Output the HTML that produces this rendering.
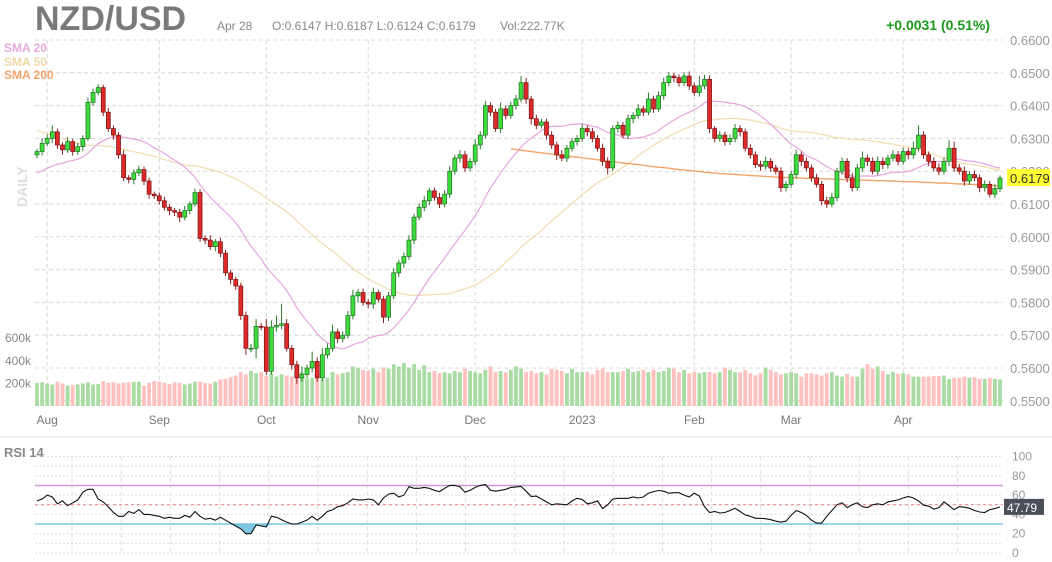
<!DOCTYPE html>
<html><head><meta charset="utf-8"><style>
html,body{margin:0;padding:0;background:#fff;}
svg{display:block;font-family:"Liberation Sans",sans-serif;}
</style></head><body>
<svg id="chart" width="1052" height="562" viewBox="0 0 1052 562" xmlns="http://www.w3.org/2000/svg">
<rect x="0" y="0" width="1052" height="562" fill="#fff"/>
<g id="grid"></g>
<g id="vol"></g>
<g id="sma"></g>
<g id="candles"></g>
<g id="rsi"></g>
<g id="labels"></g>
<text x="35" y="30" font-size="34" font-weight="bold" fill="#7a7a7a">NZD/USD</text>
<text x="217" y="30" font-size="12" fill="#888">Apr 28</text>
<text x="272" y="30" font-size="12" fill="#888">O:0.6147  H:0.6187  L:0.6124  C:0.6179</text>
<text x="500" y="30" font-size="12" fill="#888">Vol:222.77K</text>
<text x="990" y="30" font-size="14" font-weight="bold" fill="#1c9a1c" text-anchor="end">+0.0031 (0.51%)</text>
<text x="4" y="52" font-size="12" font-weight="bold" fill="#e8a8e0">SMA 20</text>
<text x="4" y="66" font-size="12" font-weight="bold" fill="#f0d8a8">SMA 50</text>
<text x="4" y="79" font-size="12" font-weight="bold" fill="#f4a46a">SMA 200</text>
<text transform="translate(27,207) rotate(-90)" font-size="14" font-weight="bold" fill="#ddd">DAILY</text>
<text x="4" y="457" font-size="13" font-weight="bold" fill="#888">RSI 14</text>
</svg>
<script>
const priorCloses=[0.6570,0.6550,0.6530,0.6560,0.6540,0.6510,0.6490,0.6520,0.6500,0.6480,0.6460,0.6470,0.6440,0.6410,0.6430,0.6400,0.6380,0.6360,0.6340,0.6370,0.6350,0.6320,0.6300,0.6340,0.6330,0.6310,0.6290,0.6260,0.6280,0.6250,0.6120,0.6160,0.6190,0.6170,0.6200,0.6180,0.6210,0.6190,0.6160,0.6180,0.6150,0.6170,0.6200,0.6190,0.6210,0.6220,0.6240,0.6230,0.6250];
const closes=[0.6260,0.6285,0.6300,0.6320,0.6280,0.6265,0.6290,0.6260,0.6275,0.6300,0.6410,0.6440,0.6455,0.6380,0.6330,0.6310,0.6250,0.6180,0.6175,0.6195,
0.6205,0.6170,0.6130,0.6125,0.6110,0.6090,0.6080,0.6075,0.6060,0.6080,0.6100,0.6135,0.5995,0.5990,0.5970,0.5985,0.5950,0.5890,0.5870,0.5850,
0.5760,0.5660,0.5660,0.5727,0.5725,0.5590,0.5725,0.5730,0.5735,0.5660,0.5610,0.5570,0.5580,0.5600,0.5620,0.5570,0.5640,0.5660,0.5710,0.5690,
0.5700,0.5760,0.5820,0.5830,0.5800,0.5795,0.5830,0.5810,0.5755,0.5820,0.5890,0.5920,0.5940,0.5990,0.6060,0.6090,0.6110,0.6140,0.6120,0.6100,
0.6130,0.6200,0.6240,0.6250,0.6210,0.6230,0.6280,0.6310,0.6400,0.6380,0.6330,0.6390,0.6370,0.6400,0.6420,0.6470,0.6420,0.6360,0.6340,0.6350,
0.6310,0.6280,0.6250,0.6240,0.6270,0.6290,0.6300,0.6330,0.6320,0.6300,0.6270,0.6230,0.6210,0.6330,0.6340,0.6310,0.6360,0.6370,0.6390,0.6380,
0.6420,0.6390,0.6430,0.6470,0.6490,0.6485,0.6470,0.6490,0.6460,0.6440,0.6460,0.6480,0.6330,0.6300,0.6310,0.6290,0.6300,0.6330,0.6320,0.6270,
0.6250,0.6220,0.6215,0.6230,0.6210,0.6200,0.6150,0.6160,0.6190,0.6250,0.6230,0.6210,0.6180,0.6160,0.6110,0.6100,0.6120,0.6200,0.6230,0.6180,
0.6150,0.6210,0.6240,0.6230,0.6200,0.6230,0.6220,0.6240,0.6250,0.6230,0.6260,0.6250,0.6270,0.6310,0.6250,0.6230,0.6210,0.6200,0.6230,0.6270,
0.6210,0.6200,0.6170,0.6190,0.6180,0.6150,0.6160,0.6130,0.6147,0.6179];
const hiExtPips=[8,15,12,20,10,8,14,9,12,10,15,12,10,8,12,10,9,14,8,10,
12,9,11,8,10,12,9,8,10,14,8,12,10,9,15,8,12,10,9,8,
10,12,14,22,10,25,20,30,60,14,10,12,25,10,30,12,20,15,22,10,
12,14,18,10,12,10,15,8,10,12,14,10,12,15,10,12,14,9,10,14,
12,15,10,14,12,10,18,12,14,10,10,20,10,12,12,20,14,10,12,10,
10,12,10,14,10,12,10,14,10,12,10,14,12,10,12,10,12,10,14,10,
20,10,14,15,12,10,10,12,14,10,30,14,12,8,12,10,12,14,10,10,
12,10,12,14,10,10,12,10,12,15,10,12,10,12,10,12,14,10,12,10,
14,12,20,10,12,15,12,10,14,12,12,10,20,30,12,10,12,14,12,25,
20,12,14,10,12,10,12,10,14,8];
const loExtPips=[10,12,8,14,12,15,9,12,10,14,8,10,9,12,10,14,12,10,12,15,
10,12,14,10,12,10,14,12,15,10,12,8,10,12,10,14,12,10,15,12,
14,20,12,30,10,12,10,14,12,10,15,18,12,10,14,12,10,12,10,14,
12,10,12,20,10,12,14,10,18,12,10,12,14,10,12,10,12,14,10,12,
10,12,10,14,12,10,12,14,10,12,10,14,12,10,12,10,14,18,12,10,
14,12,16,10,12,10,12,10,14,12,10,14,20,10,12,10,12,14,10,12,
10,12,10,12,10,14,12,10,12,10,12,10,14,12,10,12,10,12,14,10,
12,10,14,10,12,10,14,12,10,12,14,10,12,10,14,12,10,12,10,14,
12,10,12,14,10,12,14,12,10,12,10,14,12,10,12,14,10,12,10,14,
12,10,14,12,10,14,12,10,12,10];
const volumes=[205,210,200,190,215,200,180,185,190,200,210,190,195,220,205,210,200,205,210,215,
215,180,205,220,215,205,195,210,205,190,200,215,215,205,200,215,235,240,255,270,
300,280,310,290,300,265,290,260,280,270,260,290,300,245,250,270,235,250,300,280,
290,300,350,340,320,310,330,300,340,330,370,350,380,340,370,320,360,300,310,290,
300,290,310,300,330,310,300,290,320,350,300,310,300,320,350,330,300,310,290,300,
280,330,320,310,290,330,300,300,300,280,320,330,300,300,300,310,330,300,310,320,
300,320,300,310,340,330,300,320,290,300,290,300,300,290,300,340,320,300,300,320,
290,270,290,340,320,300,280,290,300,290,260,290,290,280,270,290,300,270,260,285,
260,260,330,370,330,350,310,280,300,285,290,280,260,260,260,260,265,265,270,240,
250,250,260,250,255,240,240,250,240,235];
const sma200Start=93;
const sma200=[0.6268,0.6266,0.6264,0.6262,0.6260,0.6258,0.6256,0.6254,0.6252,0.6250,0.6248,0.6246,0.6244,0.6243,0.6241,0.6239,0.6237,0.6235,0.6233,0.6231,
0.6229,0.6227,0.6225,0.6223,0.6222,0.6220,0.6218,0.6216,0.6214,0.6212,0.6211,0.6209,0.6207,0.6205,0.6204,0.6202,0.6200,0.6199,0.6197,0.6196,
0.6194,0.6193,0.6192,0.6191,0.6190,0.6189,0.6188,0.6187,0.6186,0.6185,0.6184,0.6183,0.6182,0.6181,0.6181,0.6180,0.6179,0.6179,0.6178,0.6178,
0.6177,0.6177,0.6176,0.6176,0.6175,0.6175,0.6174,0.6174,0.6173,0.6173,0.6172,0.6172,0.6171,0.6171,0.6170,0.6170,0.6169,0.6169,0.6168,0.6168,
0.6167,0.6166,0.6166,0.6165,0.6164,0.6164,0.6163,0.6162,0.6161,0.6161,0.6160,0.6159,0.6158,0.6158,0.6157,0.6156,0.6155];
const rsiValues=[54,56,60,58,51,54,49,52,55,63,66,66,56,53,48,42,38,38,43,41,
45,40,40,39,38,36,37,36,36,39,37,43,38,35,36,34,37,34,31,28,
25,20,20,29,28,27,38,37,34.5,32,30,30,32,34,38,34,38,43,44.7,48,
49,52,56,55,55,56,55,50,57,61,62,58,60,68.7,67,67,68,67,65,63.6,
67,70,70,68.7,63,65,68,70,71,65,64,65,66,68,68.5,69,64,58.5,59,56,
53,50,51,50.5,50,54,56.7,55.5,51,52,54,46,50,56,56.7,56.7,56.7,58,57,58,
62,63.6,64.8,64,62,62.5,62.5,60,58,62,59,48,42,43,41.5,42,44,46.4,43,39.5,
38,36,36,35.5,34.5,33,32,33,39,44,42,39,34,31,31,38,44,50,52,47,
50,52,48,47,50,51,50,53,54,55,57,58.5,57,54,49.5,48.5,45.5,47,53,49,
45,48,47.5,46.4,44,42.5,42,45,46,47.79];
const priceTicks=[0.66,0.65,0.64,0.63,0.62,0.61,0.60,0.59,0.58,0.57,0.56,0.55];
const monthLabels=["Aug","Sep","Oct","Nov","Dec","2023","Feb","Mar","Apr"];
const monthIndex=[2,24,45,65,86,107,129,148,170];
const volTicks=[200,400,600];
const rsiTicks=[0,20,40,60,80,100];

const NS="http://www.w3.org/2000/svg";
function mk(parent,tag,attrs){const e=document.createElementNS(NS,tag);for(const k in attrs)e.setAttribute(k,attrs[k]);parent.appendChild(e);return e;}
const X0=37,X1=1000,n=closes.length;
const xs=i=>X0+i*(X1-X0)/(n-1);
const yP=p=>40+(0.66-p)/0.01*32.8;
const yV=v=>406-v*0.113;
const yR=r=>553-r*0.965;
const G=document.getElementById('grid'),L=document.getElementById('labels');

priceTicks.forEach(t=>{
  const l=mk(G,'line',{x1:35,x2:1003,y1:yP(t),y2:yP(t),stroke:'#d8d8d8','stroke-dasharray':'4,3'});
  
  
  const tx=mk(L,'text',{x:1010,y:yP(t)+5,'font-size':13,fill:'#999'});tx.textContent=t.toFixed(4);
  
  
});
monthIndex.forEach((mi,k)=>{
  const x=xs(mi);
  const l=mk(G,'line',{x1:x,x2:x,y1:40,y2:406,stroke:'#d8d8d8','stroke-dasharray':'4,3'});
  
  
  const tx=mk(L,'text',{x:x,y:424,'font-size':12,fill:'#777','text-anchor':'middle'});tx.textContent=monthLabels[k];
  
  
});
volTicks.forEach(v=>{
  const tx=mk(L,'text',{x:5,y:yV(v)+4,'font-size':12,fill:'#888'});tx.textContent=v+'k';
  
  
});
const sep=mk(G,'line',{x1:0,x2:1052,y1:437,y2:437,stroke:'#eee','stroke-width':1.5});



const opens=closes.map((c,i)=>i===0?priorCloses[priorCloses.length-1]:closes[i-1]);
const V=document.getElementById('vol');
volumes.forEach((v,i)=>{
  const up=closes[i]>=opens[i];
  const r=mk(V,'rect',{x:xs(i)-1.9,y:yV(v),width:3.8,height:406-yV(v),fill:up?'#a8dca2':'#ffc0c0'});
  
  
});

const all=priorCloses.concat(closes),P=priorCloses.length;
function sma(w){return closes.map((c,i)=>{const e=P+i;let s=0,k=0;for(let j=Math.max(0,e-w+1);j<=e;j++){s+=all[j];k++;}return s/k;});}
const S=document.getElementById('sma');
function poly(vals,start,color,name,wd){
  const pts=vals.map((v,i)=>xs(i+start).toFixed(1)+','+yP(v).toFixed(1)).join(' ');
  const p=mk(S,'polyline',{points:pts,fill:'none',stroke:color,'stroke-width':wd});
  
  
}
poly(sma(50),0,'#f2dcae','sma-50-line',1.2);
poly(sma(20),0,'#e8a2e0','sma-20-line',1.2);
poly(sma200,sma200Start,'#f4a46a','sma-200-line',1.4);

const C=document.getElementById('candles');
closes.forEach((c,i)=>{
  const o=opens[i],up=c>=o,x=xs(i);
  const hi=Math.max(o,c)+hiExtPips[i]/10000,lo=Math.min(o,c)-loExtPips[i]/10000;
  const w=mk(C,'line',{x1:x,x2:x,y1:yP(hi),y2:yP(lo),stroke:up?'#2a7a2a':'#8a2020','stroke-width':1});
  
  
  const top=yP(Math.max(o,c)),h=Math.max(1,yP(Math.min(o,c))-top);
  const b=mk(C,'rect',{x:x-2,y:top,width:4,height:h,fill:up?'#3ddc3d':'#dd2a2a',stroke:up?'#1f6e1f':'#7a1010','stroke-width':0.7});
  
  
});
const pl=mk(L,'rect',{x:1007,y:yP(0.6179)-9,width:43,height:17,fill:'#ffff33'});


const plt=mk(L,'text',{x:1010,y:yP(0.6179)+5,'font-size':13,fill:'#333'});plt.textContent='0.6179';



// RSI
const R=document.getElementById('rsi');
for(let r=0;r<=100;r+=10){
  const l=mk(R,'line',{x1:35,x2:1003,y1:yR(r),y2:yR(r),stroke:'#ddd','stroke-dasharray':'2,2'});
  
  
}
for(let x=72;x<1003;x+=49.2){
  const l=mk(R,'line',{x1:x,x2:x,y1:yR(100),y2:yR(0),stroke:'#ddd','stroke-dasharray':'4,3'});
  
  
}
rsiTicks.forEach(t=>{
  const tx=mk(L,'text',{x:1012,y:yR(t)+4,'font-size':12,fill:'#999'});tx.textContent=t;
  
  
});
const l70=mk(R,'line',{x1:35,x2:1003,y1:yR(70),y2:yR(70),stroke:'#c99ad6','stroke-width':1.5});


const l30=mk(R,'line',{x1:35,x2:1003,y1:yR(30),y2:yR(30),stroke:'#7cc6e2','stroke-width':1.5});


const l50=mk(R,'line',{x1:35,x2:1003,y1:yR(50),y2:yR(50),stroke:'#e88080','stroke-dasharray':'3,3'});


const rv=rsiValues;
const clip=mk(R,'clipPath',{id:'below30'});
mk(clip,'rect',{x:0,y:yR(30),width:1052,height:100});
const area='M'+xs(0)+','+yR(30)+' '+rv.map((r,i)=>'L'+xs(i).toFixed(1)+','+yR(Math.min(r,30)).toFixed(1)).join(' ')+' L'+xs(rv.length-1)+','+yR(30)+'Z';
const fa=mk(R,'path',{d:area,fill:'#7cc6e2','clip-path':'url(#below30)'});


const rl=mk(R,'polyline',{points:rv.map((r,i)=>xs(i).toFixed(1)+','+yR(r).toFixed(1)).join(' '),fill:'none',stroke:'#111','stroke-width':1.1});


const last=rv[rv.length-1];
const rb=mk(L,'rect',{x:1004,y:yR(last)-8,width:40,height:16,fill:'#4a4f5a'});


const rt=mk(L,'text',{x:1007,y:yR(last)+5,'font-size':12,fill:'#fff'});rt.textContent=last.toFixed(2);


</script>
</body></html>
